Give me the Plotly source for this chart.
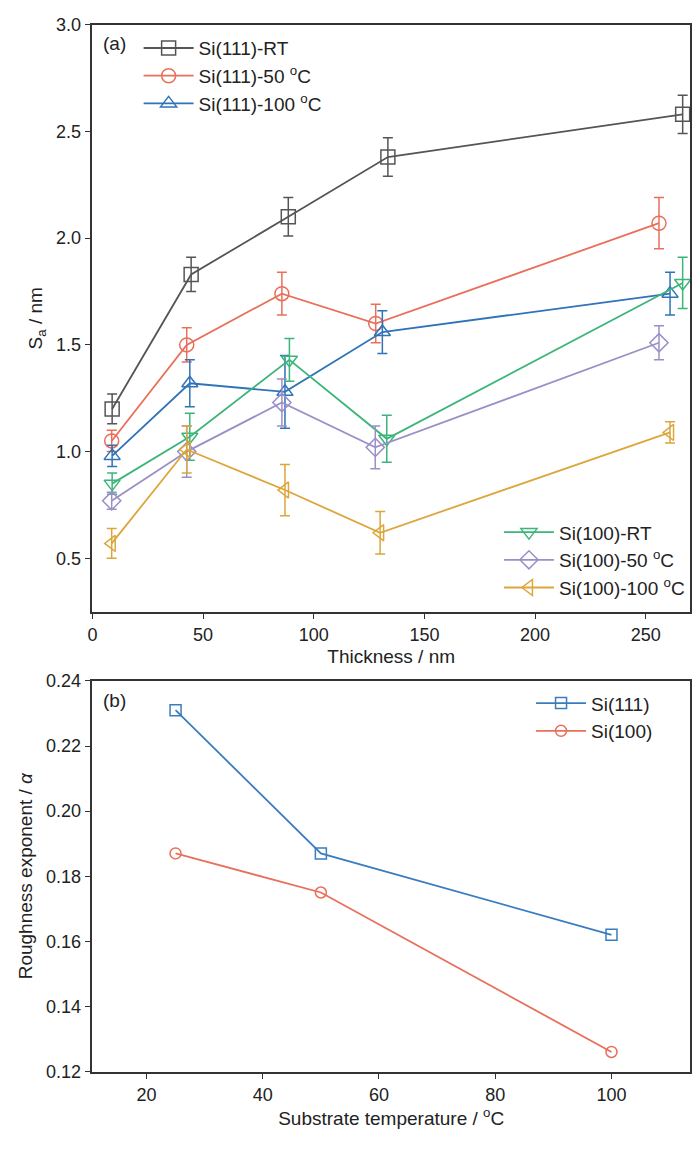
import plotly.graph_objects as go

# panel (a): thickness vs Sa
thk = {
    "Si(111)-RT": [8.9, 44.6, 88.5, 133.5, 266.7],
    "Si(111)-50 <sup>o</sup>C": [8.7, 42.6, 85.6, 128, 256],
    "Si(111)-100 <sup>o</sup>C": [8.9, 44, 87, 131, 261],
    "Si(100)-RT": [8.9, 44, 89, 133, 266.7],
    "Si(100)-50 <sup>o</sup>C": [8.7, 42.6, 85.6, 127.8, 256],
    "Si(100)-100 <sup>o</sup>C": [8.7, 42.6, 87, 130, 261],
}
sa = {
    "Si(111)-RT": [1.20, 1.83, 2.10, 2.38, 2.58],
    "Si(111)-50 <sup>o</sup>C": [1.05, 1.50, 1.74, 1.60, 2.07],
    "Si(111)-100 <sup>o</sup>C": [0.98, 1.32, 1.28, 1.56, 1.74],
    "Si(100)-RT": [0.85, 1.07, 1.43, 1.06, 1.79],
    "Si(100)-50 <sup>o</sup>C": [0.77, 1.00, 1.23, 1.02, 1.51],
    "Si(100)-100 <sup>o</sup>C": [0.57, 1.01, 0.82, 0.62, 1.09],
}
sa_err = {
    "Si(111)-RT": [0.07, 0.08, 0.09, 0.09, 0.09],
    "Si(111)-50 <sup>o</sup>C": [0.05, 0.08, 0.10, 0.09, 0.12],
    "Si(111)-100 <sup>o</sup>C": [0.05, 0.11, 0.17, 0.10, 0.10],
    "Si(100)-RT": [0.05, 0.11, 0.10, 0.11, 0.12],
    "Si(100)-50 <sup>o</sup>C": [0.04, 0.12, 0.11, 0.10, 0.08],
    "Si(100)-100 <sup>o</sup>C": [0.07, 0.11, 0.12, 0.10, 0.05],
}
colors = ["#555555", "#e8705a", "#2f73b8", "#3db57a", "#9b8fc8", "#dca63c"]
symbols = ["square-open", "circle-open", "triangle-up-open",
           "triangle-down-open", "diamond-open", "triangle-left-open"]

# panel (b): substrate temperature vs roughness exponent
temp = [25, 50, 100]
alpha_111 = [0.231, 0.187, 0.162]
alpha_100 = [0.187, 0.175, 0.126]

font = "Liberation Sans, Arial, sans-serif"
fig = go.Figure()

for i, name in enumerate(thk):
    fig.add_trace(go.Scatter(
        x=thk[name], y=sa[name], name=name, mode="lines+markers",
        error_y=dict(type="data", array=sa_err[name], color=colors[i],
                     thickness=1.5, width=5),
        line=dict(color=colors[i], width=1.8),
        marker=dict(symbol=symbols[i], size=14, color=colors[i],
                    line=dict(width=1.5)),
        legend="legend" if i < 3 else "legend2",
        xaxis="x", yaxis="y"))

fig.add_trace(go.Scatter(
    x=temp, y=alpha_111, name="Si(111)", mode="lines+markers",
    line=dict(color="#3a7cc0", width=1.8),
    marker=dict(symbol="square-open", size=11, color="#3a7cc0", line=dict(width=1.5)),
    legend="legend3", xaxis="x2", yaxis="y2"))
fig.add_trace(go.Scatter(
    x=temp, y=alpha_100, name="Si(100)", mode="lines+markers",
    line=dict(color="#e8705a", width=1.8),
    marker=dict(symbol="circle-open", size=11, color="#e8705a", line=dict(width=1.5)),
    legend="legend3", xaxis="x2", yaxis="y2"))

ax = dict(showline=True, mirror=True, linecolor="#333", linewidth=1.5,
          ticks="outside", ticklen=6, tickcolor="#333", showgrid=False,
          zeroline=False, tickfont=dict(size=18, color="#222"),
          title_font=dict(size=19, color="#222"))

leg = dict(bgcolor="rgba(0,0,0,0)", font=dict(size=19, color="#222"),
           tracegroupgap=0, itemwidth=50)

fig.update_layout(
    width=684, height=1136, margin=dict(l=0, r=0, t=0, b=0),
    plot_bgcolor="white", paper_bgcolor="white",
    font=dict(family=font, color="#222"),
    xaxis=dict(ax, domain=[0.117, 0.997], range=[0, 270], dtick=50,
               title=dict(text="Thickness / nm", standoff=6), anchor="y"),
    yaxis=dict(ax, domain=[0.468, 0.994], range=[0.25, 3.0], dtick=0.5,
               tickformat=".1f", title=dict(text="S<sub>a</sub> / nm", standoff=8),
               anchor="x"),
    xaxis2=dict(ax, domain=[0.117, 0.997], range=[10.7, 113.5], dtick=20,
                tick0=0, title=dict(text="Substrate temperature / <sup>o</sup>C",
                                    standoff=6), anchor="y2"),
    yaxis2=dict(ax, domain=[0.056, 0.406], range=[0.12, 0.24], dtick=0.02,
                tickformat=".2f",
                title=dict(text="Roughness exponent / <i>α</i>", standoff=8),
                anchor="x2"),
    legend=dict(leg, x=0.185, y=0.99, xanchor="left", yanchor="top"),
    legend2=dict(leg, x=0.997, y=0.472, xanchor="right", yanchor="bottom"),
    legend3=dict(leg, x=0.95, y=0.403, xanchor="right", yanchor="top"),
    annotations=[
        dict(text="(a)", x=0.13, y=0.988, xref="paper", yref="paper",
             xanchor="left", yanchor="top", showarrow=False, font=dict(size=19)),
        dict(text="(b)", x=0.13, y=0.4, xref="paper", yref="paper",
             xanchor="left", yanchor="top", showarrow=False, font=dict(size=19)),
    ],
)

fig.write_html("out.html")
